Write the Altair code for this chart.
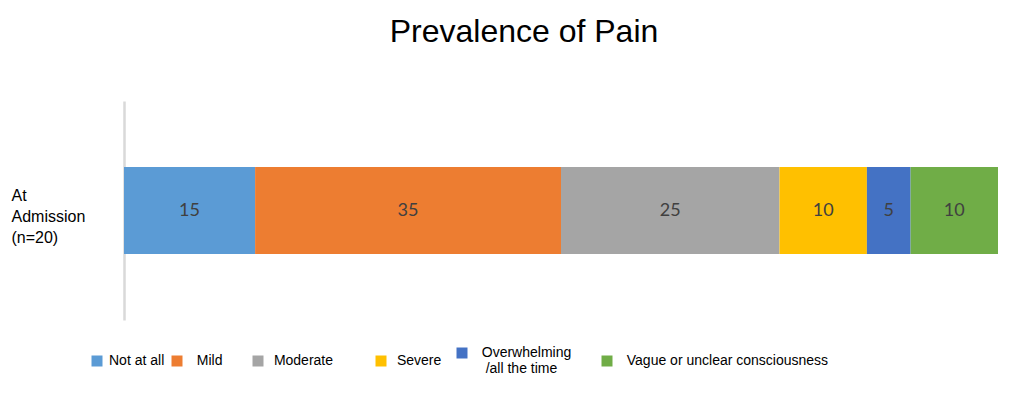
import altair as alt
import pandas as pd

categories = ["Not at all", "Mild", "Moderate", "Severe",
              "Overwhelming /all the time", "Vague or unclear consciousness"]
values = [15, 35, 25, 10, 5, 10]
colors = ["#5B9BD5", "#ED7D31", "#A5A5A5", "#FFC000", "#4472C4", "#70AD47"]
group_label = "At Admission (n=20)"

df = pd.DataFrame({
    "category": categories,
    "value": values,
    "order": list(range(len(categories))),
    "group": [group_label] * len(categories),
})

NB = "\u00a0"
Z = "\u200b"


def pad(text, pre, post):
    return f"'{Z}{NB * pre}{text}{NB * post}{Z}'"


legend_expr = (
    f"datum.label == 'Mild' ? {pad('Mild', 2, 6)} : "
    f"datum.label == 'Moderate' ? {pad('Moderate', 1, 9)} : "
    f"datum.label == 'Severe' ? {pad('Severe', 1, 2)} : "
    f"datum.label == 'Overwhelming /all the time' ? "
    f"[{pad('Overwhelming', 2, 6)}, {pad('/all the time', 3, 0)}] : "
    f"datum.label == 'Vague or unclear consciousness' ? {pad('Vague or unclear consciousness', 2, 0)} : "
    f"datum.label"
)

base = alt.Chart(df).transform_stack(
    stack="value", groupby=["group"], as_=["start", "end"],
    sort=[alt.SortField("order", order="ascending")]
).transform_calculate(mid="(datum.start + datum.end) / 2")

y_enc = alt.Y(
    "group:N", title=None,
    axis=alt.Axis(
        domainColor="#D9D9D9", domainWidth=2.5, ticks=False, tickSize=0,
        labelAlign="left", labelPadding=113, labelFont="Liberation Sans",
        labelFontSize=16, labelColor="#000000", labelLineHeight=21,
        labelExpr="split(datum.label, ' ')", labelLimit=200, labelOffset=-15,
    ),
)
x_scale = alt.Scale(domain=[0, 100], nice=False, zero=True)

bars = base.mark_bar(size=87).encode(
    x=alt.X("start:Q", scale=x_scale, axis=None),
    x2="end:Q",
    y=y_enc,
    color=alt.Color(
        "category:N",
        scale=alt.Scale(domain=categories, range=colors),
        legend=alt.Legend(
            title=None, orient="none", legendX=-34, legendY=245,
            direction="horizontal", columns=6, symbolType="square",
            symbolSize=121, symbolStrokeWidth=0, labelOffset=5,
            columnPadding=5, padding=0, labelFont="Liberation Sans",
            labelFontSize=14, labelColor="#000000", labelLimit=400,
            labelExpr=legend_expr,
        ),
    ),
)

labels = base.mark_text(font="Lato", fontSize=18, color="#404040").encode(
    x=alt.X("mid:Q", scale=x_scale, axis=None),
    y=alt.Y("group:N"),
    text=alt.Text("value:Q"),
)

chart = alt.layer(bars, labels).properties(
    width=874, height=219,
    autosize=alt.AutoSizeParams(type="none"),
    padding={"left": 116, "top": 93, "right": 18, "bottom": 71},
    title=alt.Title(
        "Prevalence of Pain", font="Liberation Sans", fontSize=32,
        fontWeight="normal", color="#000000", anchor="middle",
        baseline="alphabetic", offset=27, dx=-37,
    ),
).configure_view(stroke=None)

chart.save("out.html", embed_options={"renderer": "svg", "actions": False})
